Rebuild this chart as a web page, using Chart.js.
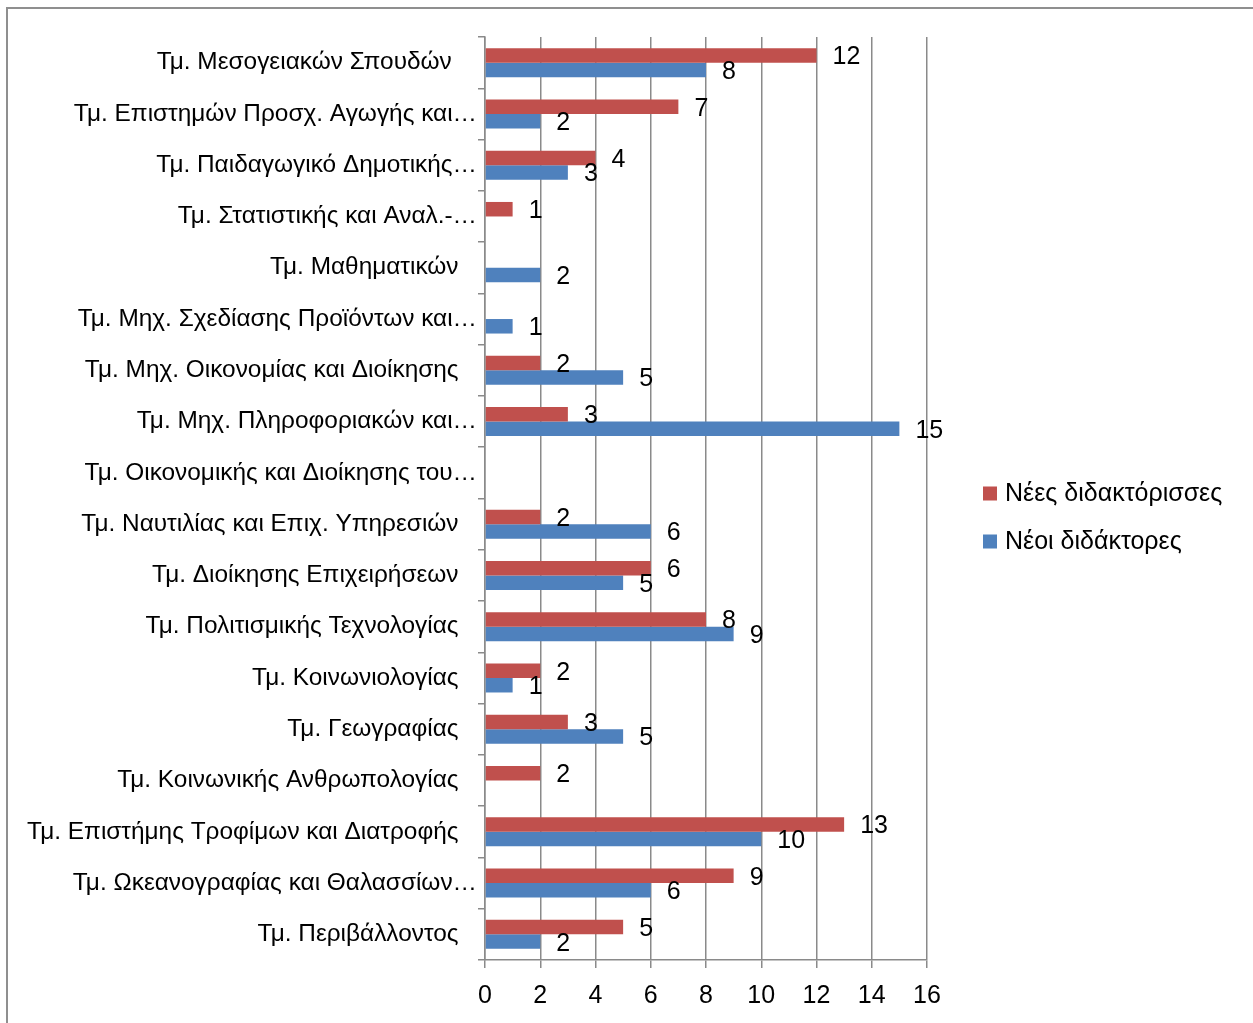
<!DOCTYPE html>
<html>
<head>
<meta charset="utf-8">
<script src="https://cdn.jsdelivr.net/npm/chart.js@4"></script>
<style>
  html, body { margin: 0; padding: 0; background: #fff; }
  #frame { position: absolute; left: 6px; top: 7px; width: 1300px; height: 1100px; border: 2px solid #8f8f8f; box-sizing: border-box; }
  #wrap { position: absolute; left: 0; top: 0; width: 1253px; height: 1023px; }
</style>
</head>
<body>
<div id="frame"></div>
<div id="wrap"><canvas id="c"></canvas></div>
<script>
const categories = [
  "Τμ. Μεσογειακών Σπουδών   \u2009",
  "Τμ. Επιστημών Προσχ. Αγωγής και…",
  "Τμ. Παιδαγωγικό Δημοτικής…",
  "Τμ. Στατιστικής και Αναλ.-…",
  "Τμ. Μαθηματικών  \u2009",
  "Τμ. Μηχ. Σχεδίασης Προϊόντων και…",
  "Τμ. Μηχ. Οικονομίας και Διοίκησης  \u2009",
  "Τμ. Μηχ. Πληροφοριακών και…",
  "Τμ. Οικονομικής και Διοίκησης του…",
  "Τμ. Ναυτιλίας και Επιχ. Υπηρεσιών  \u2009",
  "Τμ. Διοίκησης Επιχειρήσεων  \u2009",
  "Τμ. Πολιτισμικής Τεχνολογίας  \u2009",
  "Τμ. Κοινωνιολογίας  \u2009",
  "Τμ. Γεωγραφίας  \u2009",
  "Τμ. Κοινωνικής Ανθρωπολογίας  \u2009",
  "Τμ. Επιστήμης Τροφίμων και Διατροφής  \u2009",
  "Τμ. Ωκεανογραφίας και Θαλασσίων…",
  "Τμ. Περιβάλλοντος  \u2009"
];
const seriesNames = ["Νέες διδακτόρισσες", "Νέοι διδάκτορες"];
const womenValues = [12, 7, 4, 1, null, null, 2, 3, null, 2, 6, 8, 2, 3, 2, 13, 9, 5];
const menValues   = [8, 2, 3, null, 2, 1, 5, 15, null, 6, 5, 9, 1, 5, null, 10, 6, 2];
const xTicks = [0, 2, 4, 6, 8, 10, 12, 14, 16];

const FONT = "'Liberation Sans', Arial, sans-serif";
const FSIZE = 25;
const YSIZE = 24.4;
const GRID = "#8a8a8a";

const valueLabels = {
  id: 'valueLabels',
  afterDatasetsDraw(chart) {
    const ctx = chart.ctx;
    ctx.save();
    ctx.font = FSIZE + "px " + FONT;
    ctx.fillStyle = "#000";
    ctx.textAlign = "left";
    ctx.textBaseline = "middle";
    chart.data.datasets.forEach((ds, di) => {
      const meta = chart.getDatasetMeta(di);
      meta.data.forEach((el, i) => {
        const v = ds.data[i];
        if (v === null || v === undefined) return;
        ctx.fillText(String(v), el.x + 16, el.y + 2);
      });
    });
    ctx.restore();
  }
};

const sideLegend = {
  id: 'sideLegend',
  afterDraw(chart) {
    const ctx = chart.ctx;
    const ca = chart.chartArea;
    const mid = (ca.top + ca.bottom) / 2;
    const x = ca.right + 56;
    ctx.save();
    ctx.font = FSIZE + "px " + FONT;
    ctx.textAlign = "left";
    ctx.textBaseline = "middle";
    chart.data.datasets.forEach((ds, i) => {
      const cy = mid - 5 + i * 48;
      ctx.fillStyle = ds.backgroundColor;
      ctx.fillRect(x, cy - 7, 14, 14);
      ctx.fillStyle = "#000";
      ctx.fillText(ds.label, x + 22, cy + 1);
    });
    ctx.restore();
  }
};

new Chart(document.getElementById('c'), {
  type: 'bar',
  data: {
    labels: categories,
    datasets: [
      { label: seriesNames[0], data: womenValues, backgroundColor: "#C0504D", borderWidth: 0 },
      { label: seriesNames[1], data: menValues, backgroundColor: "#4F81BD", borderWidth: 0 }
    ]
  },
  options: {
    indexAxis: 'y',
    responsive: true,
    maintainAspectRatio: false,
    animation: false,
    categoryPercentage: 0.566,
    barPercentage: 1.0,
    layout: { padding: { left: 0, top: 37, right: 326, bottom: 0 } },
    plugins: { legend: { display: false }, tooltip: { enabled: false } },
    scales: {
      x: {
        min: 0, max: 16,
        afterBuildTicks(scale) { scale.ticks = xTicks.map(v => ({ value: v })); },
        afterFit(scale) { scale.height = 63; },
        grid: { color: GRID, lineWidth: 1.5, tickLength: 8, drawOnChartArea: true, drawTicks: true },
        border: { color: GRID, width: 1.5 },
        ticks: { color: "#000", font: { family: FONT, size: FSIZE }, padding: 13, maxRotation: 0 }
      },
      y: {
        afterFit(scale) { scale.width = 485; },
        grid: { color: GRID, lineWidth: 1.5, tickLength: 7, drawOnChartArea: false, drawTicks: true, offset: true },
        border: { color: GRID, width: 1.5 },
        ticks: { color: "#000", font: { family: FONT, size: YSIZE }, padding: 1, autoSkip: false }
      }
    }
  },
  plugins: [valueLabels, sideLegend]
});
</script>
</body>
</html>
